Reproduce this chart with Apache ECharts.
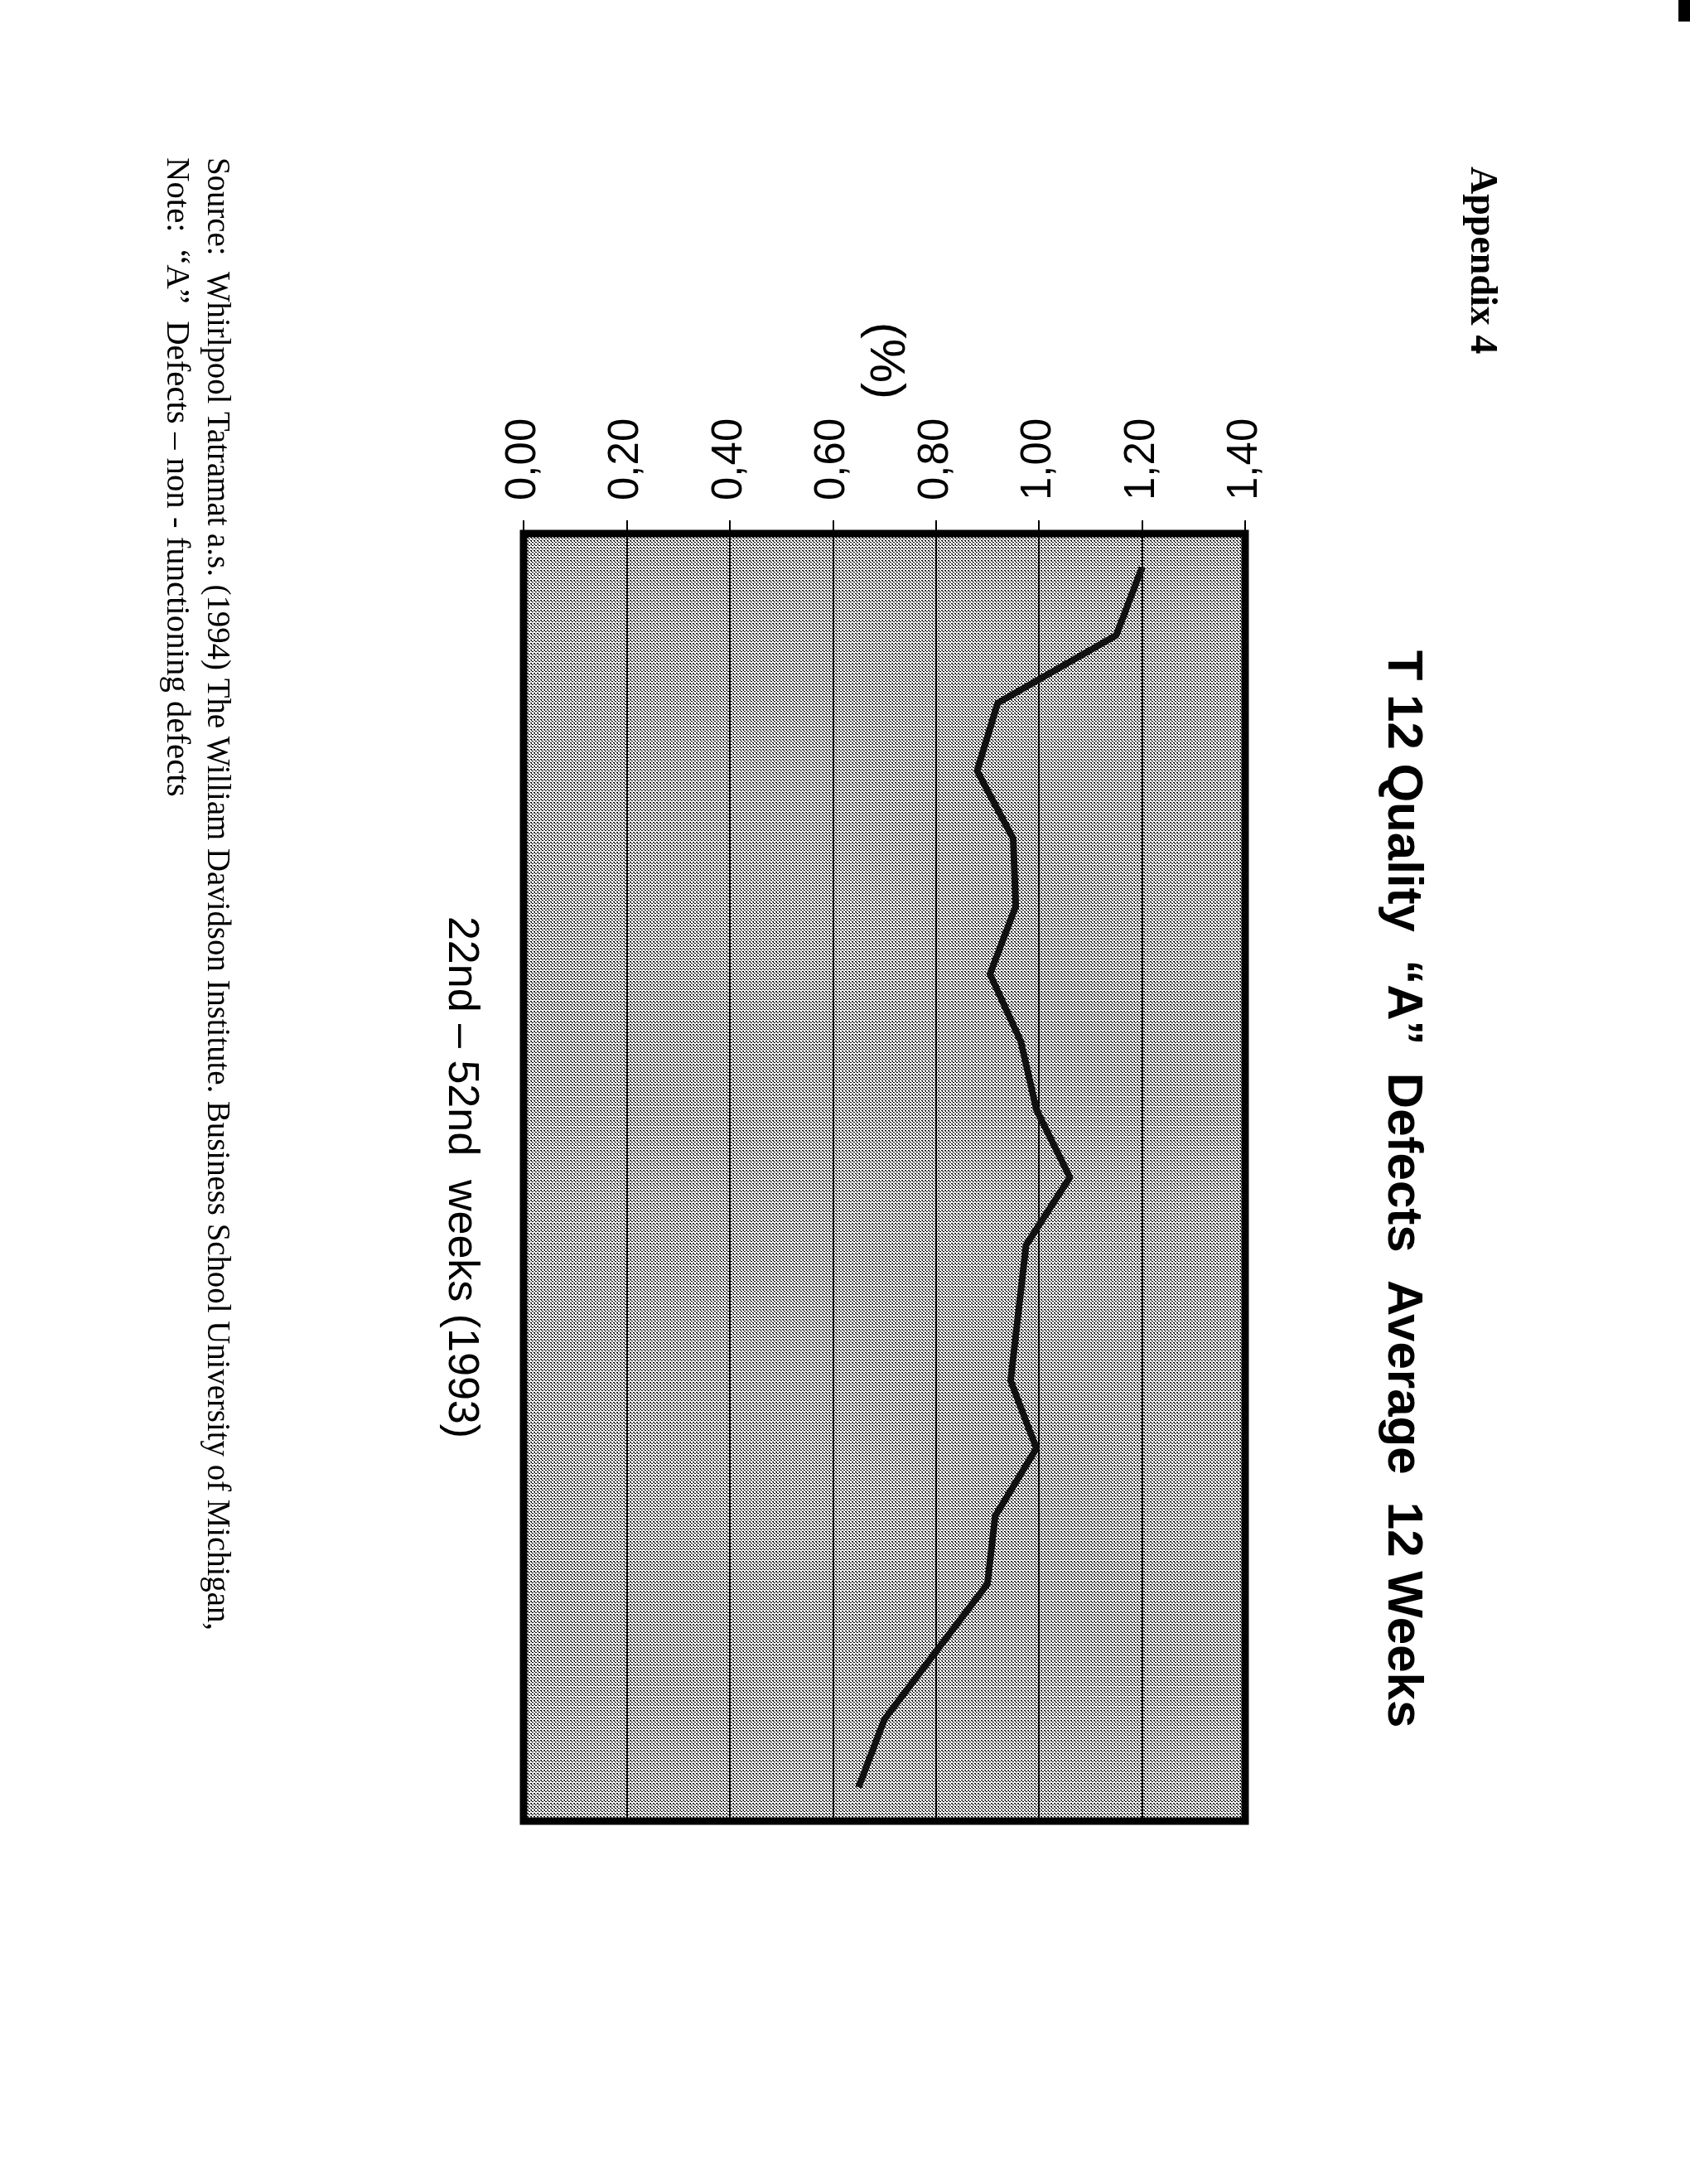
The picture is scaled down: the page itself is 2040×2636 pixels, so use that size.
<!DOCTYPE html>
<html>
<head>
<meta charset="utf-8">
<title>T 12 Quality "A" Defects Average 12 Weeks</title>
<script src="https://cdn.jsdelivr.net/npm/echarts@6/dist/echarts.min.js"></script>
<style>
  html, body { margin: 0; padding: 0; background: #fff; }
  #chart { width: 2040px; height: 2636px; }
</style>
</head>
<body>
<div id="chart"></div>
<script>
// weeks (end of each 12-week window), top to bottom on the page
var weeks = ['34', '35', '36', '37', '38', '39', '40', '41', '42', '43',
  '44', '45', '46', '47', '48', '49', '50', '51', '52'];
// "A" defects, % (12 week average)
var defects = [1.20, 1.15, 0.92, 0.88, 0.95, 0.955, 0.905, 0.965, 0.995, 1.06,
  0.975, 0.96, 0.945, 0.995, 0.915, 0.90, 0.80, 0.70, 0.65];
var tickLabels = ['0,00', '0,20', '0,40', '0,60', '0,80', '1,00', '1,20', '1,40'];

var titleText = 'T 12 Quality  \u201cA\u201d  Defects  Average  12 Weeks';
var appendixText = 'Appendix 4';
var sourceText = 'Source:  Whirlpool Tatramat a.s. (1994) The William Davidson Institute. Business School University of Michigan,';
var noteText = 'Note:  \u201cA\u201d  Defects \u2013 non - functioning defects';

(function (echarts) {
  'use strict';

  var ROT = -Math.PI / 2; // page is turned sideways, text runs top to bottom

  // grey stipple like the scanned plot area
  function stipple() {
    var c = document.createElement('canvas');
    c.width = 4;
    c.height = 4;
    var ctx = c.getContext('2d');
    ctx.fillStyle = '#fff';
    ctx.fillRect(0, 0, 4, 4);
    ctx.fillStyle = '#000';
    ctx.fillRect(0, 0, 2, 1);
    ctx.fillRect(1, 1, 1, 1);
    ctx.fillRect(2, 2, 2, 1);
    return c;
  }

  var chart = echarts.init(document.getElementById('chart'), null, { renderer: 'canvas' });

  var option = {
    backgroundColor: '#fff',
    animation: false,
    grid: {
      show: true,
      left: 632,
      top: 644,
      right: 537,
      bottom: 438,
      backgroundColor: { image: stipple(), repeat: 'repeat' },
      borderColor: '#000',
      borderWidth: 9
    },
    xAxis: {
      type: 'value',
      position: 'top',
      min: 0,
      max: 1.4,
      interval: 0.2,
      axisLine: { show: false },
      axisTick: { show: true, inside: false, length: 16, lineStyle: { color: '#000', width: 2 } },
      splitLine: { show: true, lineStyle: { color: '#000', width: 2 } },
      axisLabel: {
        rotate: -90,
        margin: 40,
        color: '#000',
        fontSize: 51,
        fontFamily: 'Liberation Sans',
        formatter: function (v) {
          return tickLabels[Math.round(v / 0.2)];
        }
      },
      name: '(%)',
      nameLocation: 'middle',
      nameRotate: -90,
      nameGap: 162,
      nameTextStyle: { color: '#000', fontSize: 60, fontFamily: 'Liberation Sans' }
    },
    yAxis: {
      type: 'category',
      data: weeks,
      inverse: true,
      boundaryGap: true,
      axisLine: { show: false },
      axisTick: { show: false },
      axisLabel: { show: false },
      splitLine: { show: false },
      name: '22nd \u2013 52nd  weeks (1993)',
      nameLocation: 'middle',
      nameRotate: -90,
      nameGap: 50,
      nameTextStyle: { color: '#000', fontSize: 52, fontFamily: 'Liberation Sans' }
    },
    series: [{
      type: 'line',
      data: defects,
      symbol: 'none',
      lineStyle: { color: '#111', width: 8, join: 'round' }
    }],
    graphic: [
      {
        type: 'text', x: 1693, y: 1435, rotation: ROT,
        style: {
          text: titleText, fill: '#000', fontSize: 60, fontWeight: 'bold',
          fontFamily: 'Liberation Sans', align: 'center', verticalAlign: 'middle'
        }
      },
      {
        type: 'text', x: 1788, y: 201, rotation: ROT,
        style: {
          text: appendixText, fill: '#000', fontSize: 46, fontWeight: 'bold',
          fontFamily: 'Liberation Serif', align: 'left', verticalAlign: 'middle'
        }
      },
      {
        type: 'text', x: 261, y: 190, rotation: ROT, scaleX: 0.97,
        style: {
          text: sourceText, fill: '#000', fontSize: 40,
          fontFamily: 'Liberation Serif', align: 'left', verticalAlign: 'middle'
        }
      },
      {
        type: 'text', x: 212, y: 190, rotation: ROT, scaleX: 1.02,
        style: {
          text: noteText, fill: '#000', fontSize: 40,
          fontFamily: 'Liberation Serif', align: 'left', verticalAlign: 'middle'
        }
      },
      {
        // scan mark in the corner
        type: 'rect', shape: { x: 2026, y: 0, width: 14, height: 26 },
        style: { fill: '#000' }
      }
    ]
  };

  chart.setOption(option);
})(echarts);
</script>
</body>
</html>
